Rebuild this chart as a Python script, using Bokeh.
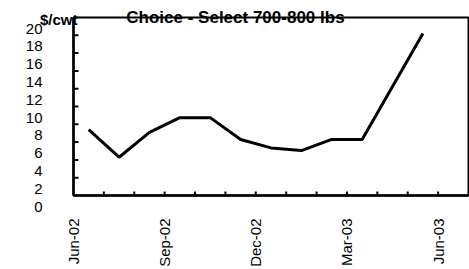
import math
from bokeh.plotting import figure
from bokeh.models import Range1d
from bokeh.core.properties import value
from bokeh.embed import file_html
from bokeh.resources import INLINE

# ---- data ----
months = ["Jun-02", "Jul-02", "Aug-02", "Sep-02", "Oct-02", "Nov-02",
          "Dec-02", "Jan-03", "Feb-03", "Mar-03", "Apr-03", "May-03"]
spread = [7.4, 4.3, 7.1, 8.75, 8.75, 6.3, 5.35, 5.05, 6.3, 6.3, 12.25, 18.2]
axis_months = ["Jun-02", "Jul-02", "Aug-02", "Sep-02", "Oct-02", "Nov-02", "Dec-02",
               "Jan-03", "Feb-03", "Mar-03", "Apr-03", "May-03", "Jun-03"]
label_every = 3
y_ticks = [0, 2, 4, 6, 8, 10, 12, 14, 16, 18, 20]
y_tick_labels = [str(v) for v in y_ticks]
title_text = "Choice - Select 700-800 lbs"
unit_text = "$/cwt"

FONT = value("Liberation Sans")

# ---- layout (pixels) ----
W, H = 469, 269
PLOT_L, PLOT_R, PLOT_T, PLOT_B = 73, 468, 17, 195

n_cols = len(axis_months)           # axis spans 13 monthly slots
y_top = y_ticks[-1]
px_per_x = (PLOT_R - PLOT_L) / n_cols
px_per_y = (PLOT_B - PLOT_T) / y_top

x_range = Range1d(-PLOT_L / px_per_x, n_cols + (W - PLOT_R) / px_per_x)
y_range = Range1d(-(H - PLOT_B) / px_per_y, y_top + PLOT_T / px_per_y)

p = figure(width=W, height=H, output_backend="svg", toolbar_location=None,
           x_range=x_range, y_range=y_range,
           min_border=0, min_border_left=0, min_border_right=0,
           min_border_top=0, min_border_bottom=0)
p.xaxis.visible = False
p.yaxis.visible = False
p.xgrid.visible = False
p.ygrid.visible = False
p.outline_line_color = None
p.background_fill_color = "white"
p.border_fill_color = "white"

# plot-area box (top and right borders)
p.quad(left=[0], right=[n_cols], bottom=[0], top=[y_top],
       fill_color=None, line_color="black", line_width=2)
# axis lines
p.segment(x0=[0, 0], y0=[0, 0], x1=[n_cols, 0], y1=[0, y_top],
          line_color="black", line_width=2.5)

# tick marks (pointing inward)
x_tick_pos = list(range(1, n_cols))
p.ray(x=x_tick_pos, y=[0] * len(x_tick_pos), length=4, length_units="screen",
      angle=math.pi / 2, line_color="black", line_width=2)
y_tick_pos = y_ticks[1:]
p.ray(x=[0] * len(y_tick_pos), y=y_tick_pos, length=5, length_units="screen",
      angle=0, line_color="black", line_width=2)

# data line
xs = [i + 0.5 for i in range(len(months))]   # mid-month positions
p.line(xs, spread, line_color="black", line_width=3)

# y tick labels (sit a little below their ticks, as in the reference)
p.text(x=[0] * len(y_ticks), y=y_ticks, text=y_tick_labels,
       x_offset=-31, y_offset=11, text_align="right", text_baseline="middle",
       text_font=FONT, text_font_size=value("15px"), text_color="black")

# x tick labels, vertical
lab_idx = [i for i in range(n_cols) if i % label_every == 0]
p.text(x=lab_idx, y=[0] * len(lab_idx), text=[axis_months[i] for i in lab_idx],
       angle=math.pi / 2, y_offset=23, text_align="right", text_baseline="middle",
       text_font=FONT, text_font_size=value("15px"), text_color="black")

# title and unit
p.text(x=[5.33], y=[y_top], text=[title_text], text_align="center",
       text_baseline="alphabetic", text_font=FONT, text_font_size=value("17px"),
       text_font_style="bold", text_color="black")
p.text(x=[0], y=[y_top], text=[unit_text], x_offset=4, y_offset=1.5,
       text_align="right", text_baseline="alphabetic", text_font=FONT,
       text_font_size=value("15px"), text_font_style="bold", text_color="black")

open("out.html", "w").write(file_html(p, INLINE))
